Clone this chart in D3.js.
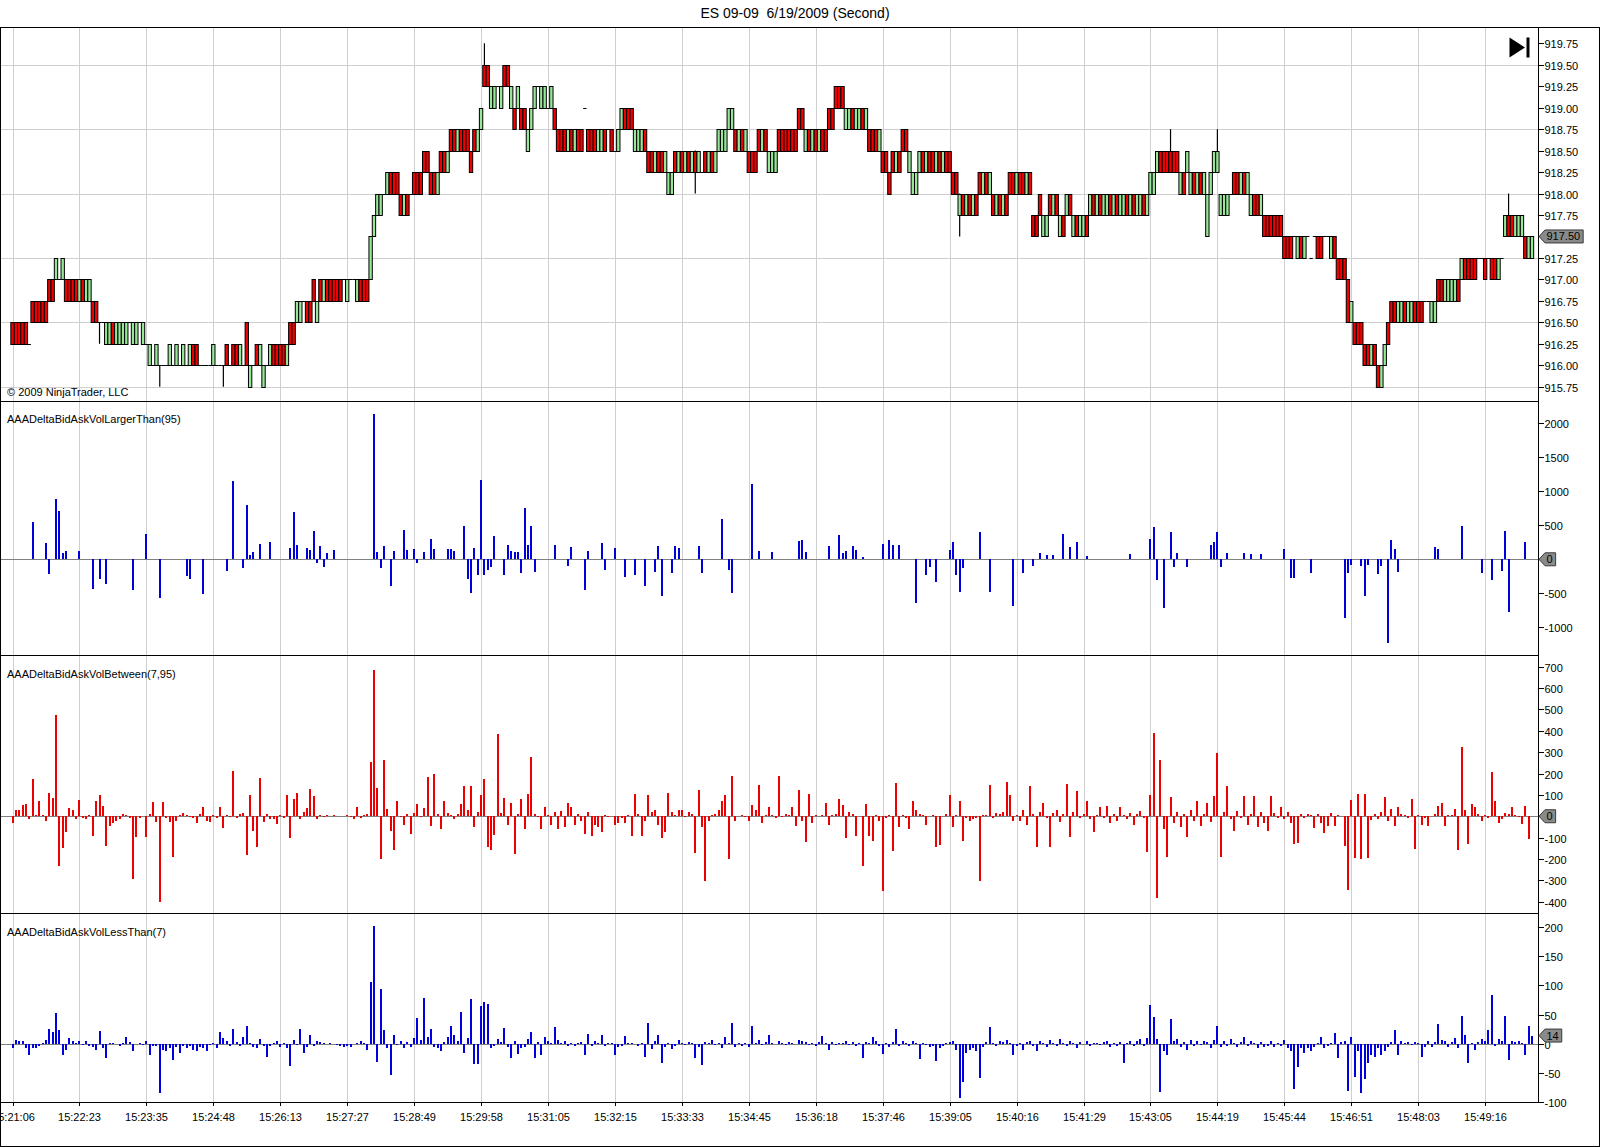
<!DOCTYPE html>
<html><head><meta charset="utf-8">
<script src="https://cdn.jsdelivr.net/npm/d3@7"></script>
<style>
body{margin:0;background:#fff}
text{font-family:"Liberation Sans",Arial,sans-serif;font-size:11px;fill:#000}
</style>
</head><body>
<svg id="c" width="1600" height="1147"></svg>
<script>
const chartTitle = "ES 09-09  6/19/2009 (Second)";
const copyright = "\u00a9 2009 NinjaTrader, LLC";
const panelNames = ["AAADeltaBidAskVolLargerThan(95)", "AAADeltaBidAskVolBetween(7,95)", "AAADeltaBidAskVolLessThan(7)"];
const timeLabels = ["15:21:06","15:22:23","15:23:35","15:24:48","15:26:13","15:27:27","15:28:49","15:29:58","15:31:05","15:32:15","15:33:33","15:34:45","15:36:18","15:37:46","15:39:05","15:40:16","15:41:29","15:43:05","15:44:19","15:45:44","15:46:51","15:48:03","15:49:16"];
const priceTicks = [915.75,916,916.25,916.5,916.75,917,917.25,917.5,917.75,918,918.25,918.5,918.75,919,919.25,919.5,919.75];
const priceGrid = [915.75,916.5,917.25,918,918.75,919.5];
const largerTicks = [-1000,-500,0,500,1000,1500,2000];
const betweenTicks = [-400,-300,-200,-100,0,100,200,300,400,500,600,700];
const lessTicks = [-100,-50,0,50,100,150,200];

const opens = [
916.5,916.5,916.5,916.5,916.5,916.25,916.75,916.75,916.75,916.75,
916.75,917,917,917,917,917,917,917,917,917,
916.75,917,916.75,916.75,916.75,916.75,916.5,916.5,916.25,916.25,
916.5,916.25,916.25,916.25,916.25,916.5,916.25,916.25,916.5,916.25,
916.25,916,916,916,916,916,916,916,916,916,
916,916,916,916,916.25,916.25,916,916,916,916,
916,916,916,916,916.25,916,916.25,916.25,916,916,
916.5,915.75,916,916.25,916,915.75,916,916,916.25,916.25,
916.25,916.25,916,916.5,916.5,916.5,916.5,916.75,916.75,916.75,
917,916.5,917,916.75,917,917,917,917,917,917,
916.75,917,917,916.75,917,917,917,917,917.5,917.75,
917.75,918,918,918.25,918.25,918.25,918,917.75,918,918,
918.25,918.25,918.25,918.5,918.5,918.25,918.25,918,918.5,918.5,
918.25,918.75,918.75,918.5,918.75,918.75,918.75,918.5,918.75,918.5,
918.75,919.5,919.5,919,919,919.25,919,919.5,919.5,919,
919,919,919,919,918.5,918.75,919,919.25,919,919,
919,919,919,918.75,918.75,918.75,918.5,918.75,918.5,918.75,
918.75,919,918.75,918.75,918.75,918.5,918.5,918.75,918.75,918.75,
918.5,918.5,918.75,919,919,919,918.5,918.5,918.5,918.75,
918.5,918.5,918.25,918.5,918.5,918.25,918,918,918.5,918.25,
918.5,918.25,918.5,918.25,918.5,918.25,918.25,918.5,918.25,918.5,
918.25,918.5,918.5,918.5,918.75,918.75,918.75,918.5,918.75,918.5,
918.5,918.5,918.5,918.75,918.5,918.75,918.25,918.25,918.25,918.75,
918.75,918.75,918.75,918.75,918.75,919,919,918.5,918.75,918.5,
918.75,918.5,918.75,918.75,919,919,919.25,919.25,919.25,918.75,
918.75,919,918.75,918.75,919,918.75,918.75,918.75,918.75,918.5,
918.5,918.5,918.25,918.5,918.25,918.5,918.75,918.75,918.25,918,
918,918.25,918.5,918.25,918.5,918.5,918.25,918.5,918.25,918.5,
918.5,918.25,918.25,917.75,918,917.75,918,917.75,918,918.25,
918,918.25,918,918,917.75,918,917.75,918,918.25,918.25,
918,918.25,918.25,918,918.25,917.75,917.75,918,917.5,917.5,
918,917.75,918,917.5,917.75,917.75,918,917.5,917.75,917.5,
917.5,917.75,917.75,918,917.75,918,917.75,917.75,918,917.75,
918,917.75,917.75,918,917.75,918,917.75,917.75,918,917.75,
918,918,918.25,918.5,918.5,918.5,918.5,918.5,918.5,918,
918.25,918.25,918,918.25,918,918.25,918,917.5,918,918.25,
918.25,917.75,917.75,917.75,918,918.25,918.25,918,918.25,918,
917.75,918,918,917.75,917.75,917.75,917.75,917.75,917.75,917.75,
917.5,917.5,917.5,917.5,917.25,917.5,917.25,917.5,917.25,917.5,
917.5,917.5,917.5,917.5,917.25,917.5,917.25,917.25,917.25,917,
916.5,916.5,916.5,916.5,916.25,916.25,916,916.25,916,915.75,
916,916.5,916.75,916.75,916.5,916.5,916.75,916.5,916.5,916.75,
916.75,916.75,916.75,916.75,916.5,916.5,917,917,916.75,916.75,
916.75,916.75,917,917,917.25,917.25,917.25,917.25,917.25,917.25,
917.25,917.25,917.25,917.25,917,917.25,917.5,917.75,917.75,917.5,
917.5,917.5,917.5,917.25,917.25];

const closes = [
916.25,916.25,916.25,916.25,916.25,916.25,916.5,916.5,916.5,916.5,
916.5,916.75,916.75,917.25,917,917.25,916.75,916.75,916.75,916.75,
917,916.75,917,917,916.5,916.5,916.5,916.5,916.5,916.5,
916.25,916.5,916.5,916.5,916.5,916.5,916.5,916.5,916.5,916.5,
916.25,916.25,916,916.25,916,916,916,916.25,916,916.25,
916,916.25,916,916.25,916,916,916,916,916,916,
916.25,916,916,916,916,916,916,916,916.25,916,
916,916,916,916,916.25,916,916,916.25,916,916,
916,916,916.25,916.25,916.25,916.75,916.75,916.75,916.5,916.5,
916.75,916.75,916.75,917,916.75,916.75,916.75,916.75,916.75,917,
917,917,917,917,916.75,916.75,916.75,917.5,917.75,918,
918,918,918.25,918,918,918,917.75,918,917.75,918,
918,918,918,918.25,918.25,918,918,918.25,918.25,918.25,
918.5,918.5,918.5,918.75,918.5,918.5,918.5,918.25,918.5,918.75,
919,919.25,919.25,919.25,919.25,919.25,919.25,919.25,919.25,919.25,
918.75,919.25,918.75,918.75,918.75,919,919.25,919.25,919.25,919.25,
919,919.25,918.75,918.5,918.5,918.5,918.75,918.5,918.75,918.5,
918.5,919,918.5,918.5,918.5,918.75,918.75,918.5,918.75,918.5,
918.5,918.75,919,918.75,918.75,918.75,918.75,918.75,918.75,918.5,
918.25,918.25,918.5,918.25,918.25,918.5,918.25,918.25,918.25,918.5,
918.25,918.5,918.25,918.5,918.25,918.5,918.25,918.25,918.5,918.25,
918.5,918.75,918.75,918.75,919,919,918.5,918.75,918.5,918.75,
918.25,918.25,918.25,918.5,918.75,918.5,918.5,918.5,918.5,918.5,
918.5,918.5,918.5,918.5,918.5,918.75,918.75,918.75,918.5,918.75,
918.5,918.75,918.5,918.5,918.75,918.75,919,919,919,919,
919,918.75,919,919,918.75,919,918.5,918.5,918.5,918.75,
918.25,918.25,918,918.25,918.5,918.25,918.5,918.5,918.5,918.25,
918.25,918.5,918.25,918.5,918.25,918.25,918.5,918.25,918.5,918.25,
918.25,918,918,918,917.75,918,917.75,918,917.75,918,
918.25,918,918.25,917.75,918,917.75,918,917.75,918,918,
918.25,918,918,918.25,918,917.5,917.5,917.75,917.75,917.75,
917.75,918,917.75,917.75,917.5,918,917.75,917.75,917.5,917.75,
917.75,917.5,918,917.75,918,917.75,918,918,917.75,918,
917.75,918,918,917.75,918,917.75,918,918,917.75,918,
918.25,918.25,918.5,918.25,918.25,918.25,918.25,918.25,918.25,918.25,
918,918.5,918.25,918,918.25,918,918.25,918,918.25,918.5,
918.5,918,918,918,918,918,918,918.25,918,918.25,
918,917.75,917.75,918,917.5,917.5,917.5,917.5,917.5,917.5,
917.25,917.25,917.25,917.5,917.5,917.25,917.5,917.5,917.25,917.5,
917.25,917.25,917.5,917.5,917.5,917.25,917,917,917,916.5,
916.75,916.25,916.25,916.25,916,916,916.25,916,915.75,916,
916.25,916.25,916.5,916.5,916.75,916.75,916.5,916.75,916.75,916.5,
916.5,916.5,916.75,916.75,916.75,916.75,916.75,916.75,917,917,
917,917,916.75,917.25,917,917,917,917,917.25,917.25,
917,917.25,917,917,917.25,917.25,917.75,917.5,917.5,917.75,
917.75,917.75,917.25,917.5,917.5];

const wickBars  = [26, 44, 63, 141, 204, 283, 346, 360, 447];
const wickHighs = [916.5, 916, 916, 919.75, 918.5, 918, 918.75, 918.75, 918];
const wickLows  = [916.25, 915.75, 915.75, 919.25, 918, 917.5, 918.25, 918.25, 917.5];

const largerBars = [6,10,11,13,14,15,16,20,24,26,28,36,40,44,52,53,57,64,66,69,70,71,72,74,77,83,84,85,88,89,90,91,92,93,94,96,108,109,110,111,113,114,117,118,120,121,123,125,126,130,131,132,135,136,137,138,139,140,141,142,143,144,147,148,149,150,151,152,153,154,155,156,162,166,167,171,172,176,177,180,183,186,189,192,193,194,197,198,199,205,206,212,214,215,221,223,227,235,236,237,244,247,248,249,251,252,254,260,262,263,265,270,273,274,276,280,281,282,283,284,289,292,299,302,305,307,309,311,314,316,318,321,334,340,341,342,344,346,347,348,351,358,359,360,361,363,368,370,373,380,382,383,388,398,399,400,403,404,405,408,409,411,412,413,414,425,426,433,439,442,445,446,447,452];
const largerValues = [550,240,-210,890,710,100,120,120,-430,-285,-360,-445,370,-565,-245,-285,-515,-170,1150,-125,800,64,108,225,255,170,700,210,170,137,416,-50,196,-110,93,137,2140,108,-122,196,-387,122,431,137,152,-49,108,304,152,150,150,120,490,-294,-490,170,-230,1166,-230,-150,-120,343,-236,203,125,105,105,-197,748,210,485,-184,210,-92,177,-453,125,236,-157,164,-256,-236,-387,-190,190,-538,-197,190,160,190,-197,590,-157,-499,1102,125,105,262,282,105,190,354,92,125,190,131,39,223,282,210,210,-636,-236,-112,-328,144,249,-236,-485,-125,407,-479,-682,-195,-100,100,60,60,375,180,255,45,75,300,480,-300,-720,405,-120,100,-120,210,255,405,-120,100,100,75,75,150,-270,-270,-196,-857,-196,-88,-98,-544,-83,-220,-98,-1235,284,147,-181,181,157,490,-196,-299,-171,416,-769,255];

const betweenValues = [
-31,31,28,51,59,-15,174,5,70,8,
-20,109,86,473,-231,-148,-72,40,30,-15,
75,-10,-15,8,-92,73,100,50,-140,-47,
-30,-20,-12,10,5,-10,-294,-95,-8,0,
-95,12,69,-25,-400,68,-10,-25,-190,-20,
6,15,8,-5,-8,-32,10,45,-20,-25,
8,-10,45,-54,6,-5,210,-8,10,15,
-180,101,-70,-142,180,-25,10,-12,-15,-35,
5,-8,98,-100,80,108,-15,20,40,126,
95,-15,8,-5,5,0,5,0,3,0,
5,-5,-15,45,-8,5,10,255,686,130,
-202,265,35,-70,-160,70,-5,-40,10,-85,
15,56,-5,40,186,-45,200,10,-60,73,
15,8,-15,10,55,140,30,140,-50,20,
100,176,-145,-160,-90,385,15,87,-42,62,
-177,10,83,-62,104,277,10,-5,-62,42,
5,-42,21,-62,25,-52,62,42,-42,10,
-21,-83,21,-94,-42,-52,-73,5,-5,0,
-42,-31,-10,-31,8,-94,104,10,-94,-21,
98,21,31,-42,-104,-73,110,21,8,27,
31,-5,21,10,-171,125,-52,-302,-21,5,
10,31,73,98,-202,187,-21,0,5,-5,
-21,52,31,146,-31,5,42,8,-10,187,
-5,10,5,42,-46,125,-21,-119,104,-31,
8,0,5,62,-42,5,10,83,52,-104,
21,10,-94,0,-233,56,-94,-115,5,-21,
-350,-10,8,-162,154,-52,5,-8,-62,73,
31,10,5,-42,0,5,-142,-135,0,10,
98,-52,8,73,-115,-10,-21,-15,-10,-302,
5,8,146,-10,15,10,21,160,100,-21,
5,-20,30,-40,143,10,-143,20,60,-10,
-143,15,30,-25,10,152,-95,20,120,-10,
10,70,-15,-75,5,45,-10,50,-30,10,
-20,45,5,-15,15,-40,10,25,-10,-167,
100,390,-381,262,-60,-190,90,-30,20,-50,
10,-95,30,-20,70,-45,10,60,-25,95,
295,-190,20,143,-15,-70,25,-10,95,-40,
10,95,-50,20,-30,-70,95,15,-10,45,
-15,20,-30,-129,-123,12,-10,12,5,-56,
10,-31,-77,-45,17,-45,5,0,-139,-345,
75,-197,106,-200,103,-194,-19,10,-15,20,
90,-20,33,-45,44,10,5,-10,80,-155,
5,-40,-10,-45,0,10,48,64,-45,5,
8,33,-159,325,28,-131,56,44,12,-20,
5,-8,209,72,-30,-15,15,12,44,5,
-5,-34,48,-108,0];

const lessValues = [
-8,6,5,4,-7,-20,-8,-7,-3,2,
6,26,20,53,23,-19,-10,10,4,2,
5,-2,4,-3,-5,-10,22,-7,-24,2,
1,0,-3,2,12,3,-12,0,1,-2,
5,-20,-4,-3,-84,-10,-13,-8,-27,-6,
-16,-4,-8,-3,-10,-12,-5,-8,-12,-2,
2,-7,20,10,5,-4,25,3,-4,12,
31,2,-5,-7,8,-4,-23,-3,1,4,
-5,2,-7,-38,6,-2,25,-16,-5,15,
-3,5,3,2,-1,1,0,-2,-3,-5,
-3,-6,0,2,4,2,-10,105,202,-31,
94,24,-7,-53,15,-2,4,-7,3,-5,
10,44,7,79,11,25,-5,-7,-12,3,
11,30,15,4,55,-16,10,76,-34,-34,
64,72,68,-7,-4,8,3,27,-5,-24,
4,-18,-8,-5,8,20,-24,3,-20,12,
4,2,29,6,2,4,-3,2,-4,1,
3,-20,17,-3,5,2,15,-4,2,1,
-20,-6,-4,14,2,1,0,-3,2,-23,
35,-9,4,15,-33,-5,2,-9,-4,6,
1,-2,3,1,-24,-5,-36,3,2,6,
-2,1,-8,12,2,36,-6,2,-3,1,
-5,30,2,6,-2,3,15,2,-1,4,
1,-2,3,2,0,6,5,3,-2,1,
-4,3,14,2,-10,3,-2,2,1,4,
-2,3,-4,2,-24,3,1,12,4,-3,
-17,2,-5,3,25,-4,5,2,-3,4,
1,-26,2,-2,-5,-4,-30,-8,-3,1,
3,4,-10,-93,-66,-15,-10,-8,-12,-59,
-5,3,29,2,-3,5,3,6,2,-20,
-4,2,-10,3,5,-3,-12,4,2,-6,
6,1,-4,8,2,-3,4,1,-8,3,
0,5,-3,2,1,-2,3,4,-5,2,
-4,3,-33,2,5,-3,4,8,-4,10,
66,45,8,-82,-12,-20,42,5,8,-6,
3,-10,6,-3,4,-2,5,3,-8,6,
31,-5,4,-3,8,2,-6,3,12,-4,
5,2,-8,3,-5,-3,4,-6,2,-4,
6,-8,-12,-77,-39,-7,-16,-7,-12,-5,
2,11,-7,-3,2,19,-24,3,4,-81,
11,-56,-13,-84,-61,-33,-19,-22,-8,-20,
-13,-5,3,24,-20,4,2,3,-2,3,
1,-22,-6,5,-6,3,34,6,5,-6,
3,10,-7,48,15,-33,2,-11,3,8,
4,24,84,-4,8,4,48,-27,4,3,
5,2,-20,30,14];

// ---------------- drawing ----------------
const W = 1600, H = 1147;
const axisX = 1538.5;
const svg = d3.select("#c");
svg.append("rect").attr("width", W).attr("height", H).attr("fill", "#fff");

const nBars = opens.length;
const x = d3.scaleLinear().domain([0, nBars - 1]).range([12.5, 1532]);
const barStep = x(1) - x(0);

const panels = [
  {top: 27.5, bottom: 401.5},
  {top: 401.5, bottom: 655.5},
  {top: 655.5, bottom: 913.5},
  {top: 913.5, bottom: 1102.5}
];
const yPrice = d3.scaleLinear().domain([915.75, 919.75]).range([386.7, 43.3]);
const yLarger = d3.scaleLinear().domain([-1000, 2000]).range([627.3, 423.3]);
const yBetween = d3.scaleLinear().domain([-400, 700]).range([901.7, 666.7]);
const yLess = d3.scaleLinear().domain([-100, 200]).range([1102.3, 926.7]);

// title
svg.append("text").attr("x", 795).attr("y", 18).attr("text-anchor", "middle")
  .style("font-size", "14px").style("white-space", "pre").text(chartTitle);

const grid = svg.append("g").attr("shape-rendering", "crispEdges");
// vertical grid lines at every label bar
timeLabels.forEach((t, k) => {
  const gx = Math.round(x(k * 20)) + 0.5;
  grid.append("line").attr("x1", gx).attr("x2", gx).attr("y1", 28).attr("y2", 1102)
    .attr("stroke", "#cfcfcf");
});
// horizontal grid in price panel
priceGrid.forEach(p => {
  const gy = Math.round(yPrice(p)) + 0.5;
  grid.append("line").attr("x1", 1).attr("x2", axisX).attr("y1", gy).attr("y2", gy)
    .attr("stroke", "#cfcfcf");
});

// zero lines
[yLarger, yBetween, yLess].forEach(s => {
  const zy = Math.round(s(0)) + 0.5;
  grid.append("line").attr("x1", 1).attr("x2", axisX).attr("y1", zy).attr("y2", zy)
    .attr("stroke", "#808080");
});

// candles
const cg = svg.append("g");
const wickMap = new Map(wickBars.map((b, j) => [b, j]));
for (let i = 0; i < nBars; i++) {
  const o = opens[i], c = closes[i], cx = x(i);
  if (wickMap.has(i)) {
    const j = wickMap.get(i);
    cg.append("line").attr("x1", cx).attr("x2", cx)
      .attr("y1", yPrice(wickHighs[j])).attr("y2", yPrice(wickLows[j]))
      .attr("stroke", "#000").attr("stroke-width", 1.2);
  }
  if (o === c) {
    cg.append("line").attr("x1", cx - barStep / 2).attr("x2", cx + barStep / 2)
      .attr("y1", Math.round(yPrice(o)) + 0.5).attr("y2", Math.round(yPrice(o)) + 0.5)
      .attr("stroke", "#000").attr("stroke-width", 1);
  } else {
    const top = yPrice(Math.max(o, c)), bot = yPrice(Math.min(o, c));
    cg.append("rect").attr("x", cx - barStep / 2).attr("width", barStep)
      .attr("y", Math.round(top) + 0.5).attr("height", Math.round(bot) - Math.round(top))
      .attr("fill", c > o ? "#98e698" : "#f00000")
      .attr("stroke", "#000").attr("stroke-width", 1);
  }
}

// histogram panels
function drawHist(bars, values, yS, color) {
  const g = svg.append("g").attr("shape-rendering", "crispEdges");
  bars.forEach((b, j) => {
    const v = values[j];
    if (v === 0) return;
    const y0 = yS(0), y1 = yS(v);
    g.append("rect").attr("x", x(b) - 1).attr("width", 2)
      .attr("y", Math.min(y0, y1)).attr("height", Math.abs(y1 - y0))
      .attr("fill", color);
  });
}
drawHist(largerBars, largerValues, yLarger, "#0000d8");
drawHist(betweenValues.map((v, i) => i), betweenValues, yBetween, "#ee0000");
drawHist(lessValues.map((v, i) => i), lessValues, yLess, "#0000e0");

// frame and separators
const fg = svg.append("g").attr("shape-rendering", "crispEdges");
fg.append("rect").attr("x", 0.5).attr("y", 27.5).attr("width", 1598.5).attr("height", 1118.5)
  .attr("fill", "none").attr("stroke", "#000");
panels.slice(1).forEach(p => {
  fg.append("line").attr("x1", 0).attr("x2", axisX).attr("y1", p.top).attr("y2", p.top).attr("stroke", "#000");
});
fg.append("line").attr("x1", 0).attr("x2", axisX).attr("y1", 1102.5).attr("y2", 1102.5).attr("stroke", "#000");
fg.append("line").attr("x1", axisX).attr("x2", axisX).attr("y1", 27.5).attr("y2", 1102.5).attr("stroke", "#000");

// right axes
function rightAxis(ticks, yS, fmt) {
  const g = svg.append("g");
  ticks.forEach(t => {
    const ty = Math.round(yS(t)) + 0.5;
    g.append("line").attr("x1", axisX).attr("x2", axisX + 5).attr("y1", ty).attr("y2", ty)
      .attr("stroke", "#000").attr("shape-rendering", "crispEdges");
    g.append("text").attr("x", axisX + 6).attr("y", ty + 4).text(fmt(t));
  });
}
rightAxis(priceTicks, yPrice, d3.format(".2f"));
rightAxis(largerTicks, yLarger, v => String(v));
rightAxis(betweenTicks, yBetween, v => String(v));
rightAxis(lessTicks, yLess, v => String(v));

// bottom time axis
const tg = svg.append("g");
timeLabels.forEach((t, k) => {
  const gx = Math.round(x(k * 20)) + 0.5;
  tg.append("line").attr("x1", gx).attr("x2", gx).attr("y1", 1102.5).attr("y2", 1106)
    .attr("stroke", "#000").attr("shape-rendering", "crispEdges");
  tg.append("text").attr("x", gx).attr("y", 1121).attr("text-anchor", "middle").text(t);
});

// last-value markers
function marker(yv, label) {
  const g = svg.append("g");
  const txt = g.append("text").attr("x", axisX + 8).attr("y", yv + 4).text(label);
  const tw = txt.node().getComputedTextLength();
  const x0 = axisX + 0.5, x1 = axisX + 6.5, x2 = axisX + 9 + tw + 2;
  g.insert("path", "text")
    .attr("d", `M${x0},${yv} L${x1},${yv - 6.5} L${x2},${yv - 6.5} L${x2},${yv + 6.5} L${x1},${yv + 6.5} Z`)
    .attr("fill", "#8a8a8a").attr("stroke", "#3a3a3a").attr("stroke-width", 1);
}
const lastLarger = largerBars[largerBars.length - 1] === nBars - 1 ? largerValues[largerValues.length - 1] : 0;
marker(yPrice(closes[nBars - 1]), d3.format(".2f")(closes[nBars - 1]));
marker(yLarger(lastLarger), String(lastLarger));
marker(yBetween(betweenValues[nBars - 1]), String(betweenValues[nBars - 1]));
marker(yLess(lessValues[nBars - 1]), String(lessValues[nBars - 1]));

// "go to end" icon
const ig = svg.append("g");
ig.append("path").attr("d", "M1509.5,37.5 L1525,47.5 L1509.5,57.5 Z").attr("fill", "#000");
ig.append("rect").attr("x", 1526.5).attr("y", 37.5).attr("width", 3).attr("height", 20).attr("fill", "#000");

// texts
svg.append("text").attr("x", 7).attr("y", 395.5).text(copyright);
svg.append("text").attr("x", 7).attr("y", 423).text(panelNames[0]);
svg.append("text").attr("x", 7).attr("y", 677.5).text(panelNames[1]);
svg.append("text").attr("x", 7).attr("y", 935.5).text(panelNames[2]);
</script>
</body></html>
